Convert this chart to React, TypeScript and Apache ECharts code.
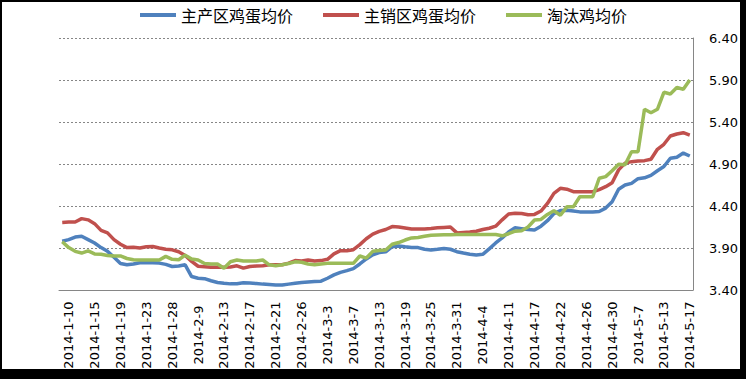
import React, { useEffect, useRef } from "react";
import * as echarts from "echarts";

const seriesNames = ["主产区鸡蛋均价", "主销区鸡蛋均价", "淘汰鸡均价"];

const categories = [
  "2014-1-9", "2014-1-10", "2014-1-11", "2014-1-13", "2014-1-14", "2014-1-15", "2014-1-16", "2014-1-17",
  "2014-1-18", "2014-1-19", "2014-1-20", "2014-1-21", "2014-1-22", "2014-1-23", "2014-1-24", "2014-1-25",
  "2014-1-27", "2014-1-28", "2014-1-29", "2014-1-30", "2014-2-8", "2014-2-9", "2014-2-10", "2014-2-11",
  "2014-2-12", "2014-2-13", "2014-2-14", "2014-2-15", "2014-2-16", "2014-2-17", "2014-2-18", "2014-2-19",
  "2014-2-20", "2014-2-21", "2014-2-22", "2014-2-24", "2014-2-25", "2014-2-26", "2014-2-27", "2014-2-28",
  "2014-3-1", "2014-3-3", "2014-3-4", "2014-3-5", "2014-3-6", "2014-3-7", "2014-3-10", "2014-3-11",
  "2014-3-12", "2014-3-13", "2014-3-14", "2014-3-17", "2014-3-18", "2014-3-19", "2014-3-20", "2014-3-21",
  "2014-3-24", "2014-3-25", "2014-3-26", "2014-3-27", "2014-3-28", "2014-3-31", "2014-4-1", "2014-4-2",
  "2014-4-3", "2014-4-4", "2014-4-8", "2014-4-9", "2014-4-10", "2014-4-11", "2014-4-14", "2014-4-15",
  "2014-4-16", "2014-4-17", "2014-4-18", "2014-4-19", "2014-4-21", "2014-4-22", "2014-4-23", "2014-4-24",
  "2014-4-25", "2014-4-26", "2014-4-27", "2014-4-28", "2014-4-29", "2014-4-30", "2014-5-4", "2014-5-5",
  "2014-5-6", "2014-5-7", "2014-5-8", "2014-5-9", "2014-5-12", "2014-5-13", "2014-5-14", "2014-5-15",
  "2014-5-16", "2014-5-17",
];

const producingArea = [
  3.98, 4.0, 4.03, 4.04, 4.0, 3.96, 3.905, 3.86, 3.79, 3.715,
  3.7, 3.71, 3.725, 3.725, 3.725, 3.72, 3.705, 3.68, 3.685, 3.7,
  3.56, 3.54, 3.535, 3.51, 3.49, 3.48, 3.473, 3.475, 3.485, 3.482,
  3.477, 3.47, 3.465, 3.46, 3.46, 3.47, 3.48, 3.49, 3.495, 3.5,
  3.505, 3.54, 3.58, 3.61, 3.63, 3.655, 3.71, 3.77, 3.82, 3.845,
  3.855, 3.915, 3.924, 3.915, 3.907, 3.905, 3.885, 3.877, 3.885, 3.895,
  3.885, 3.856, 3.84, 3.825, 3.817, 3.825, 3.89, 3.96, 4.02, 4.09,
  4.14, 4.13, 4.12, 4.115, 4.16, 4.225, 4.31, 4.345, 4.35, 4.34,
  4.33, 4.33, 4.33, 4.335, 4.375, 4.45, 4.6, 4.65, 4.67, 4.725,
  4.735, 4.765, 4.82, 4.87, 4.968, 4.98, 5.03, 4.995,
];

const consumingArea = [
  4.205, 4.21, 4.21, 4.25, 4.235, 4.19, 4.11, 4.08, 4.0, 3.945,
  3.905, 3.91, 3.9, 3.915, 3.917, 3.9, 3.885, 3.878, 3.855, 3.81,
  3.74, 3.683, 3.678, 3.672, 3.67, 3.67, 3.675, 3.688, 3.66, 3.68,
  3.686, 3.69, 3.7, 3.7, 3.7, 3.72, 3.75, 3.746, 3.757, 3.745,
  3.75, 3.765, 3.83, 3.868, 3.868, 3.88, 3.94, 4.01, 4.066, 4.098,
  4.12, 4.155, 4.15, 4.138, 4.126, 4.126, 4.126, 4.132, 4.14, 4.145,
  4.15, 4.08, 4.085, 4.09, 4.1, 4.12, 4.135, 4.16, 4.235, 4.305,
  4.315, 4.31, 4.295, 4.3, 4.34, 4.43, 4.55, 4.61, 4.6, 4.57,
  4.57, 4.57, 4.57, 4.595, 4.63, 4.677, 4.83, 4.91, 4.928, 4.935,
  4.94, 4.956, 5.075, 5.135, 5.233, 5.257, 5.273, 5.245,
];

const cullHen = [
  3.975, 3.905, 3.86, 3.84, 3.865, 3.83, 3.825, 3.81, 3.805, 3.805,
  3.775, 3.76, 3.757, 3.757, 3.757, 3.757, 3.8, 3.765, 3.76, 3.815,
  3.77, 3.757, 3.715, 3.71, 3.71, 3.66, 3.737, 3.757, 3.745, 3.745,
  3.745, 3.757, 3.7, 3.69, 3.7, 3.715, 3.735, 3.73, 3.71, 3.7,
  3.71, 3.717, 3.717, 3.717, 3.717, 3.717, 3.805, 3.78, 3.86, 3.87,
  3.876, 3.945, 3.965, 3.995, 4.02, 4.025, 4.04, 4.052, 4.055, 4.057,
  4.058, 4.06, 4.06, 4.06, 4.06, 4.06, 4.06, 4.06, 4.045, 4.07,
  4.1, 4.105, 4.15, 4.233, 4.24, 4.3, 4.344, 4.29, 4.39, 4.39,
  4.51, 4.51, 4.51, 4.73, 4.75, 4.82, 4.896, 4.89, 5.046, 5.046,
  5.551, 5.51, 5.551, 5.754, 5.733, 5.81, 5.79, 5.9,
];

const yTicks = [3.4, 3.9, 4.4, 4.9, 5.4, 5.9, 6.4];

const colors = ["#4F81BD", "#C0504D", "#9BBB59"];

export default function App() {
  const ref = useRef<HTMLDivElement>(null);

  useEffect(() => {
    if (!ref.current) return;
    const chart = echarts.init(ref.current, undefined, { renderer: "svg" });
    const seriesData = [producingArea, consumingArea, cullHen];
    chart.setOption({
      animation: false,
      backgroundColor: "#ffffff",
      legend: {
        left: 140,
        top: 7,
        padding: 0,
        icon: "rect",
        itemWidth: 36,
        itemHeight: 4,
        itemGap: 30,
        textStyle: {
          fontFamily: "Noto Sans CJK SC",
          fontSize: 16,
          color: "#000",
        },
        data: seriesNames,
      },
      grid: { left: 59, right: 53, top: 38, bottom: 89 },
      xAxis: {
        type: "category",
        data: categories,
        boundaryGap: true,
        axisLine: { show: true, lineStyle: { color: "#868686", width: 1 } },
        axisTick: { show: false },
        axisLabel: {
          rotate: 90,
          interval: (index: number) => (index - 1) % 4 === 0,
          margin: 45,
          align: "center",
          verticalAlign: "middle",
          fontFamily: "DejaVu Sans",
          fontSize: 13,
          color: "#000",
        },
        splitLine: { show: false },
      },
      yAxis: {
        type: "value",
        position: "right",
        min: 3.4,
        max: 6.4,
        axisLine: { show: true, lineStyle: { color: "#868686", width: 1 } },
        axisTick: { show: false, customValues: yTicks },
        axisLabel: {
          customValues: yTicks,
          margin: 16,
          fontFamily: "DejaVu Sans",
          fontSize: 13,
          color: "#000",
          formatter: (v: number) => v.toFixed(2),
        },
        splitLine: {
          show: true,
          lineStyle: { color: "#868686", type: [2, 2], width: 1 },
        },
      },
      series: seriesNames.map((name, i) => ({
        name,
        type: "line",
        data: seriesData[i],
        symbol: "none",
        smooth: false,
        lineStyle: { color: colors[i], width: 3.5 },
        itemStyle: { color: colors[i] },
      })),
      graphic: [
        { type: "rect", shape: { x: 0, y: 0, width: 746, height: 2 }, style: { fill: "#000" } },
        { type: "rect", shape: { x: 0, y: 0, width: 2, height: 379 }, style: { fill: "#000" } },
        { type: "rect", shape: { x: 740, y: 0, width: 6, height: 379 }, style: { fill: "#000" } },
        { type: "rect", shape: { x: 0, y: 369, width: 746, height: 10 }, style: { fill: "#000" } },
      ],
    });
    return () => chart.dispose();
  }, []);

  return (
    <div
      ref={ref}
      style={{ position: "fixed", left: 0, top: 0, width: 746, height: 379 }}
    />
  );
}
